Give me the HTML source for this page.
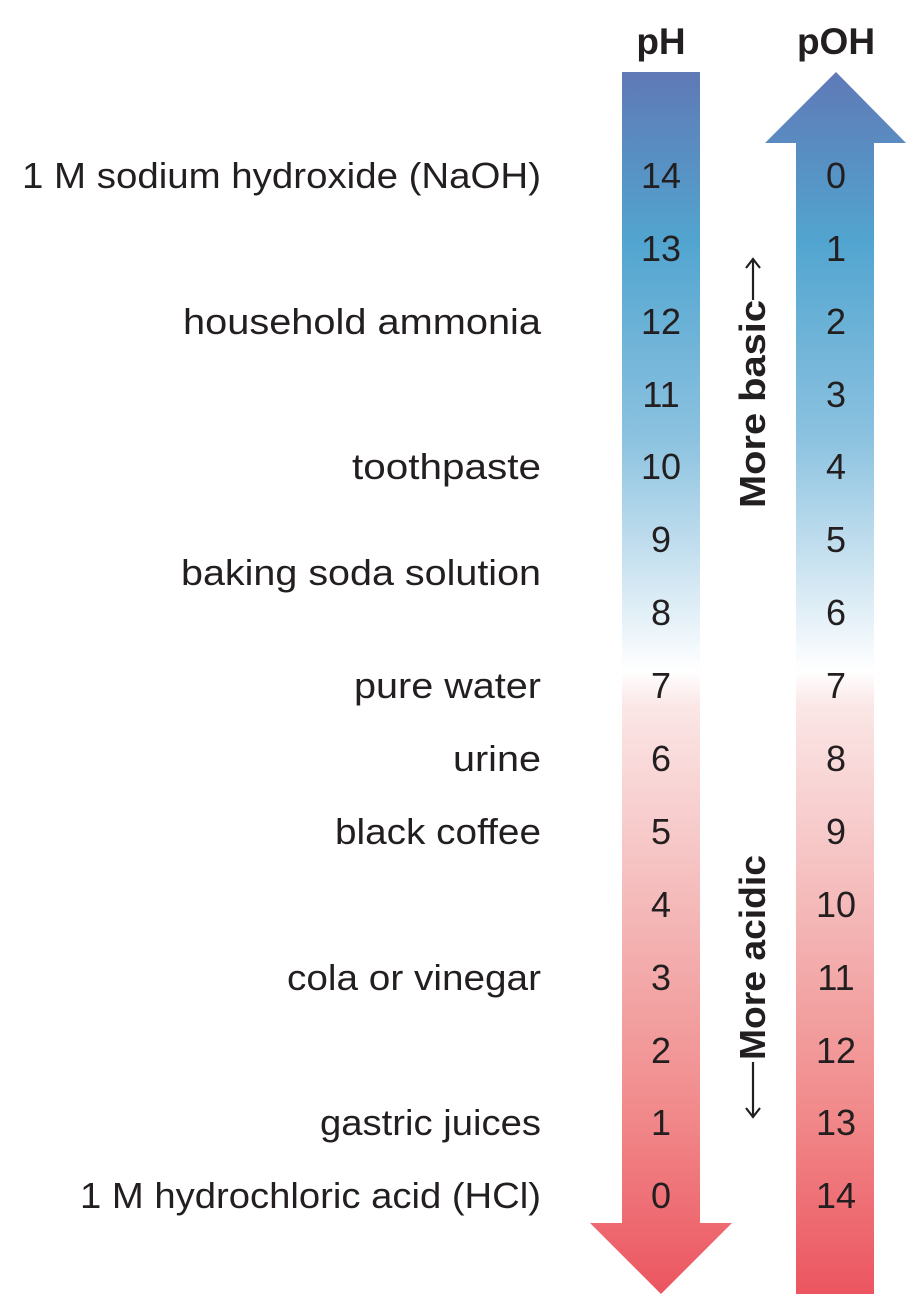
<!DOCTYPE html>
<html><head><meta charset="utf-8"><style>
html,body{margin:0;padding:0;background:#fff;}
svg{display:block;}
text{font-family:"Liberation Sans",sans-serif;fill:#231f20;}
</style></head><body>
<svg width="918" height="1308" viewBox="0 0 918 1308" xmlns="http://www.w3.org/2000/svg">
<defs>
<linearGradient id="g" x1="0" y1="72" x2="0" y2="1294" gradientUnits="userSpaceOnUse">
<stop offset="0" stop-color="#5f79b6"/>
<stop offset="0.14" stop-color="#52a5d0"/>
<stop offset="0.3" stop-color="#8cc2e0"/>
<stop offset="0.42" stop-color="#d4e8f3"/>
<stop offset="0.49" stop-color="#ffffff"/>
<stop offset="0.52" stop-color="#fbe6e6"/>
<stop offset="0.7" stop-color="#f4b4b4"/>
<stop offset="0.85" stop-color="#f18a8b"/>
<stop offset="1" stop-color="#ec5560"/>
</linearGradient>
</defs>
<polygon points="622,72 700,72 700,1223 732,1223 661,1294 590,1223 622,1223" fill="url(#g)"/>
<polygon points="836,72 906,143 874,143 874,1294 796,1294 796,143 765,143" fill="url(#g)"/>
<text x="661" y="54" font-size="37" font-weight="bold" text-anchor="middle">pH</text>
<text x="836" y="54" font-size="37" font-weight="bold" text-anchor="middle">pOH</text>
<g font-size="36" text-anchor="middle">
<text x="661" y="188">14</text><text x="836" y="188">0</text>
<text x="661" y="261">13</text><text x="836" y="261">1</text>
<text x="661" y="334">12</text><text x="836" y="334">2</text>
<text x="661" y="407">11</text><text x="836" y="407">3</text>
<text x="661" y="479">10</text><text x="836" y="479">4</text>
<text x="661" y="552">9</text><text x="836" y="552">5</text>
<text x="661" y="625">8</text><text x="836" y="625">6</text>
<text x="661" y="698">7</text><text x="836" y="698">7</text>
<text x="661" y="771">6</text><text x="836" y="771">8</text>
<text x="661" y="844">5</text><text x="836" y="844">9</text>
<text x="661" y="917">4</text><text x="836" y="917">10</text>
<text x="661" y="990">3</text><text x="836" y="990">11</text>
<text x="661" y="1063">2</text><text x="836" y="1063">12</text>
<text x="661" y="1135">1</text><text x="836" y="1135">13</text>
<text x="661" y="1208">0</text><text x="836" y="1208">14</text>
</g>
<g font-size="36" text-anchor="end">
<text x="541" y="188" textLength="519" lengthAdjust="spacingAndGlyphs">1 M sodium hydroxide (NaOH)</text>
<text x="541" y="334" textLength="358" lengthAdjust="spacingAndGlyphs">household ammonia</text>
<text x="541" y="479" textLength="189" lengthAdjust="spacingAndGlyphs">toothpaste</text>
<text x="541" y="585" textLength="360" lengthAdjust="spacingAndGlyphs">baking soda solution</text>
<text x="541" y="698" textLength="187" lengthAdjust="spacingAndGlyphs">pure water</text>
<text x="541" y="771" textLength="88" lengthAdjust="spacingAndGlyphs">urine</text>
<text x="541" y="844" textLength="206" lengthAdjust="spacingAndGlyphs">black coffee</text>
<text x="541" y="990" textLength="254" lengthAdjust="spacingAndGlyphs">cola or vinegar</text>
<text x="541" y="1135" textLength="221" lengthAdjust="spacingAndGlyphs">gastric juices</text>
<text x="541" y="1208" textLength="461" lengthAdjust="spacingAndGlyphs">1 M hydrochloric acid (HCl)</text>
</g>
<text transform="translate(765,508) rotate(-90)" font-size="36" font-weight="bold" textLength="208" lengthAdjust="spacingAndGlyphs">More basic</text>
<g stroke="#231f20" stroke-width="2.2" fill="none">
<line x1="753" y1="300" x2="753" y2="260"/>
<polyline points="746,268 753,259 760,268"/>
<line x1="753" y1="1062" x2="753" y2="1116"/>
<polyline points="746,1108 753,1117 760,1108"/>
</g>
<text transform="translate(765,1060) rotate(-90)" font-size="36" font-weight="bold" textLength="205" lengthAdjust="spacingAndGlyphs">More acidic</text>
</svg>
</body></html>
